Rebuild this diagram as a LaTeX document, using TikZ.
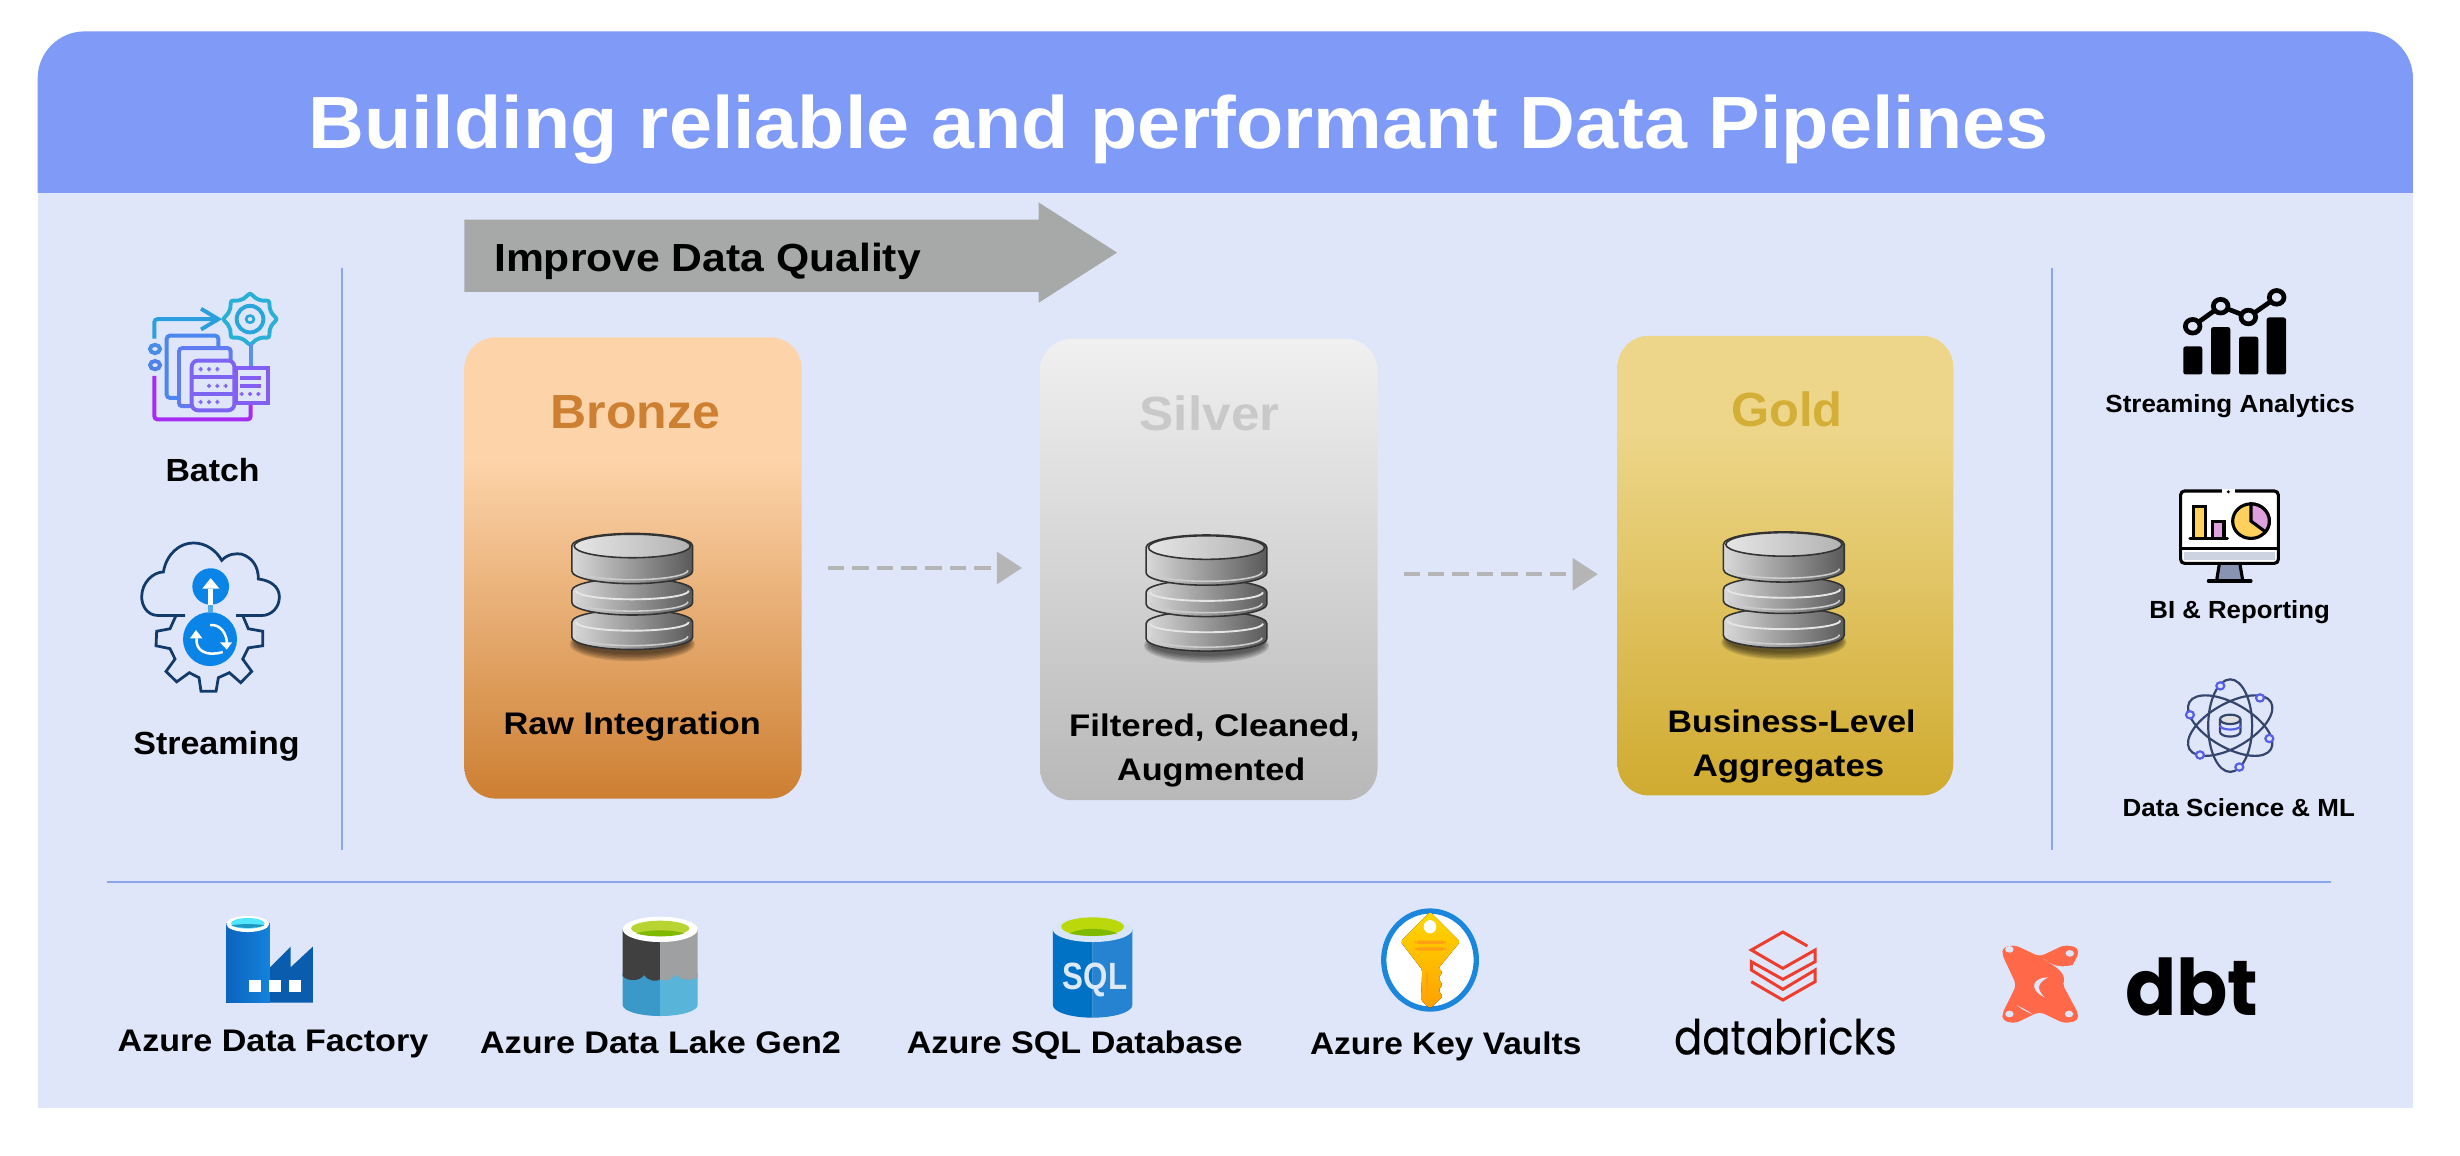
\documentclass[tikz,border=0pt]{standalone}
\usepackage{fontspec}
\usepackage{graphicx}
\setmainfont{Liberation Sans}
\newfontfamily\popf{Poppins}
\newfontfamily\popm[FakeBold=0.35]{Poppins}
\usetikzlibrary{arrows.meta,calc}
\newlength\ulen
\setlength\ulen{0.39222pt}
\newcommand{\fw}[2]{\resizebox{#1\ulen}{\height}{#2}}
\definecolor{panelc}{HTML}{E0E6F9}
\definecolor{headc}{HTML}{7F9BF7}
\definecolor{rulec}{HTML}{8CA6EE}
\definecolor{arrc}{HTML}{A6A9A8}
\definecolor{flowc}{HTML}{B5B5B5}
\definecolor{bronzec}{HTML}{CD7F32}
\definecolor{bronzetop}{HTML}{FDD4AA}
\definecolor{silverc}{HTML}{C9C9C9}
\definecolor{goldc}{HTML}{D4AF37}
\definecolor{navyc}{HTML}{123A6B}
\definecolor{bluec}{HTML}{0A84E6}
\definecolor{dsc}{HTML}{34466E}
\definecolor{dsn}{HTML}{5560E8}
\definecolor{dbred}{HTML}{EE3D2C}
\definecolor{dbto}{HTML}{FF694A}
\definecolor{ykey}{HTML}{FFD15C}
\definecolor{pkey}{HTML}{DDA0DD}
\definecolor{silvertop}{HTML}{F0F0F0}
\definecolor{silverbot}{HTML}{B8B8B8}
\definecolor{goldtop}{HTML}{EDD68A}
\definecolor{goldbot}{HTML}{D0AB30}
\pgfdeclareverticalshading{bronzeshade}{100bp}{color(0bp)=(bronzec); color(25bp)=(bronzec); color(62bp)=(bronzetop); color(75bp)=(bronzetop); color(100bp)=(bronzetop)}
\pgfdeclareverticalshading{silvershade}{100bp}{color(0bp)=(silverbot); color(25bp)=(silverbot); color(75bp)=(silvertop); color(100bp)=(silvertop)}
\pgfdeclareverticalshading{goldshade}{100bp}{color(0bp)=(goldbot); color(25bp)=(goldbot); color(65bp)=(goldtop); color(75bp)=(goldtop); color(100bp)=(goldtop)}
\tikzset{
  lab/.style={inner sep=0pt,anchor=base,yshift=-0.45pt,font=\bfseries\fontsize{#1}{#1}\selectfont,text=black},
  tier/.style={inner sep=0pt,rounded corners=20*\ulen,minimum width=215*\ulen,minimum height=294*\ulen},
  sep/.style={draw=rulec,line width=0.5pt},
  flow/.style={draw=flowc,line width=1.1pt,dash pattern=on 4.1pt off 2pt,-{Triangle[length=6.3pt,width=7.9pt,fill=flowc]}},
  dbicon/.pic={
    \foreach \k in {0,...,5}{\fill[black,opacity=.12] (0,69+\k*.3) ellipse [x radius=36+\k*.8,y radius=8+\k*.6];}
    \foreach \t/\b in {48.5/74,28.5/52,0/32}{
      \draw[draw=black!80,line width=1*\ulen,left color=black!15,right color=black!65]
        (-38.5,\t+8) -- (-38.5,\b-8) arc[start angle=180,end angle=0,x radius=38.5,y radius=8] -- (38.5,\t+8)
        arc[start angle=0,end angle=-180,x radius=38.5,y radius=8] -- cycle;
      \draw[white!80!black,line width=1*\ulen] (-35.5,\b-8.5) arc[start angle=180,end angle=0,x radius=35.5,y radius=6];
      \draw[white!90!black,line width=1.2*\ulen] (-36,\t+8) arc[start angle=180,end angle=0,x radius=36,y radius=5.5];
    }
    \draw[draw=black!80,line width=1*\ulen,left color=black!10,right color=black!30] (0,8) ellipse [x radius=37,y radius=7.5];
  },
}
\begin{document}
\begin{tikzpicture}[x=0.39222pt,y=-0.39222pt]
\useasboundingbox (0,0) rectangle (1568,736.2);
\fill[white] (0,0) rectangle (1568,736.2);
% panel and header
\fill[panelc] (24,123) rectangle (1538,706);
\fill[headc] (24,123) {[rounded corners=30*\ulen] -- (24,20) -- (1538,20)} -- (1538,123) -- cycle;
\node[lab=18.5pt,text=white] (title) at (751,93.5) {\fw{1109}{Building reliable and performant Data Pipelines}};
% separators
\draw[sep] (218,171) -- (218,542);
\draw[sep] (1308,171) -- (1308,542);
\draw[sep] (68,562) -- (1486,562);
% quality arrow
\fill[arrc] (296,140) -- (662,140) -- (662,129) -- (712,161) -- (662,193) -- (662,186) -- (296,186) -- cycle;
\node[lab=9.8pt] (quality) at (451,172) {\fw{272}{Improve Data Quality}};
% tiers
\node[tier,shading=bronzeshade,minimum width=215*\ulen] (bronze) at (403.5,362) {};
\node[tier,shading=silvershade] (silver) at (770.5,363) {};
\node[tier,shading=goldshade,minimum height=293*\ulen,minimum width=214*\ulen] (gold) at (1138,360.5) {};
\node[lab=12pt,text=bronzec] (tb) at (405,272) {\fw{108}{Bronze}};
\node[lab=12pt,text=silverc] (ts) at (771,273) {\fw{89}{Silver}};
\node[lab=12pt,text=goldc] (tg) at (1139,271) {\fw{71}{Gold}};
\pic at (403,340) {dbicon};
\pic at (769,341) {dbicon};
\pic at (1137,339) {dbicon};
\node[lab=7.8pt] (lb) at (403,467) {\fw{164}{Raw Integration}};
\node[lab=7.8pt] (ls1) at (774,468.5) {\fw{185}{Filtered, Cleaned,}};
\node[lab=7.8pt] (ls2) at (772,496.5) {\fw{120}{Augmented}};
\node[lab=7.8pt] (lg1) at (1142,466) {\fw{158}{Business-Level}};
\node[lab=7.8pt] (lg2) at (1140,494) {\fw{122}{Aggregates}};
% flow arrows
\draw[flow,shorten <=6.31pt,shorten >=4.34pt] (bronze.east) -- (bronze.east -| silver.west);
\draw[flow,shorten <=6.31pt,shorten >=4.73pt] ([yshift=-1.18pt]silver.east) -- ([yshift=-1.18pt]silver.east -| gold.west);
% left labels
\node[lab=8pt] (batch) at (135.5,306) {\fw{60}{Batch}};
\node[lab=8pt] (streaming) at (138,480) {\fw{106}{Streaming}};
% batch icon
\begin{scope}[shift={(0,146.6)},xscale=0.2125,yscale=0.2642,line width=2.5*\ulen,rounded corners=2*\ulen]
  \draw[color={rgb,255:red,40;green,176;blue,214},sharp corners] plot[smooth cycle,domain=0:345,samples=24] ({750+(72+7*cos(8*\x))*cos(\x)},{215+(55+6*cos(8*\x))*sin(\x)});
  \draw[color={rgb,255:red,40;green,166;blue,220}] (750,215) ellipse [x radius=40,y radius=32];
  \fill[color={rgb,255:red,40;green,166;blue,220}] (750,215) ellipse [x radius=16,y radius=12];
  \fill[panelc] (750,215) ellipse [x radius=7,y radius=5];
  \draw[color={rgb,255:red,43;green,159;blue,221}] (463,262) -- (463,215) -- (655,215);
  \draw[color={rgb,255:red,43;green,159;blue,221},sharp corners] (603,190) -- (655,215) -- (603,240);
  \draw[color={rgb,255:red,70;green,140;blue,232}] (465,287) ellipse [x radius=15,y radius=10];
  \draw[color={rgb,255:red,80;green,130;blue,236}] (465,326) ellipse [x radius=15,y radius=10];
  \draw[color={rgb,255:red,165;green,45;blue,242}] (463,352) -- (463,457) -- (752,457) -- (752,420);
  \draw[color={rgb,255:red,75;green,135;blue,238}] (535,405) -- (500,405) -- (500,255) -- (655,255) -- (655,285);
  \draw[color={rgb,255:red,95;green,125;blue,240}] (575,425) -- (537,425) -- (537,285) -- (692,285) -- (692,315);
  \draw[color={rgb,255:red,125;green,100;blue,242},fill=panelc,rounded corners=4*\ulen] (575,315) rectangle (703,435);
  \draw[color={rgb,255:red,125;green,100;blue,242}] (575,355) -- (703,355) (575,395) -- (703,395);
  \foreach \px/\py in {602/336,627/336,652/336,627/376,652/376,677/376,602/415,627/415,652/415}{\fill[color={rgb,255:red,125;green,100;blue,242}] (\px-6,\py-5) rectangle (\px+6,\py+5);}
  \draw[color={rgb,255:red,90;green,145;blue,235}] (752,275) -- (752,333);
  \draw[color={rgb,255:red,130;green,95;blue,242},fill=panelc,sharp corners] (708,333) rectangle (805,418);
  \draw[color={rgb,255:red,130;green,95;blue,242}] (720,356) -- (782,356) (720,376) -- (782,376);
  \foreach \px in {725,750,775}{\fill[color={rgb,255:red,130;green,95;blue,242}] (\px-6,391) rectangle (\px+6,400);}
\end{scope}
% streaming icon
\begin{scope}[shift={(0,146.6)},xscale=0.2125,yscale=0.2642]
  \draw[navyc,line width=1*\ulen+0.3pt] (555,930) -- (475,930) .. controls (440,930) and (425,905) .. (425,885) .. controls (425,850) and (460,825) .. (490,825) .. controls (500,780) and (540,755) .. (580,755) .. controls (620,755) and (650,775) .. (665,797) .. controls (685,780) and (710,780) .. (725,782) .. controls (755,790) and (775,810) .. (775,842) .. controls (810,845) and (838,860) .. (838,885) .. controls (838,910) and (815,930) .. (785,930) -- (708,930);
  \draw[navyc,line width=1*\ulen+0.3pt] (528,930) -- (510,962) -- (470,968) -- (468,1003) -- (510,1010) -- (525,1035) -- (498,1065) -- (530,1090) -- (568,1068) -- (597,1080) -- (603,1113) -- (648,1113) -- (655,1080) -- (688,1068) -- (722,1092) -- (755,1065) -- (728,1035) -- (745,1008) -- (788,1003) -- (788,968) -- (745,962) -- (728,930);
  \fill[bluec] (632,860) ellipse [x radius=55,y radius=44];
  \fill[bluec] (630,987) ellipse [x radius=81,y radius=65];
  \fill[white!30!bluec] (625,870) rectangle (640,925);
  \fill[white] (607,865) -- (632,840) -- (658,865) -- cycle;
  \fill[white] (625,865) rectangle (640,905);
  \draw[white,line width=1.6*\ulen] (590,985) .. controls (585,1015) and (620,1030) .. (668,1018);
  \draw[white,line width=1.6*\ulen] (630,953) .. controls (660,950) and (685,975) .. (680,1005);
  \fill[white] (570,985) -- (588,965) -- (607,985) -- cycle;
  \fill[white] (660,995) -- (680,1012) -- (696,995) -- cycle;
\end{scope}
% right labels
\node[lab=6.2pt] (sa) at (1421.5,262) {\fw{159}{Streaming Analytics}};
\node[lab=6.2pt] (bi) at (1427.5,393) {\fw{115}{BI \& Reporting}};
\node[lab=6.2pt] (ds) at (1427,519) {\fw{148}{Data Science \& ML}};
% analytics icon
\begin{scope}[shift={(1313,159.3)},xscale=0.2125,yscale=0.2561]
  \foreach \a/\b/\c in {370/427/240,453/511/192,537/595/216,620/678/168}{\fill[black,rounded corners=1.5*\ulen] (\a,\c) rectangle (\b,310);}
  \draw[black,line width=3*\ulen] (398,190) -- (482,140) -- (565,167) -- (650,118);
  \foreach \a/\b in {398/190,482/140,565/167,650/118}{\draw[black,fill=panelc,line width=3*\ulen] (\a,\b) ellipse [x radius=22,y radius=17];}
\end{scope}
% BI icon
\begin{scope}[shift={(1313,159.3)},xscale=0.2125,yscale=0.2561,line width=2*\ulen]
  \fill[color={rgb,255:red,136;green,147;blue,179}] (478,782) -- (540,782) -- (548,822) -- (470,822) -- cycle;
  \draw[black] (478,782) -- (470,822) (540,782) -- (548,822);
  \draw[black,line cap=round] (445,824) -- (573,824);
  \draw[black,fill=white,rounded corners=2.5*\ulen] (362,600) rectangle (655,780);
  \fill[color={rgb,255:red,205;green,211;blue,224}] (373,752) rectangle (645,771);
  \draw[black] (362,742) -- (655,742);
  \draw[white,line width=2.6*\ulen] (485,600) -- (525,600);
  \fill[black] (505,602) ellipse [x radius=5,y radius=4];
  \draw[black,fill=ykey] (400,715) -- (400,638) -- (436,638) -- (436,715);
  \draw[black,fill=pkey] (458,715) -- (458,675) -- (492,675) -- (492,715);
  \draw[black,line cap=round] (390,718) -- (502,718);
  \draw[black,fill=ykey] (573,675) ellipse [x radius=55,y radius=43];
  \draw[black,fill=pkey] (573,675) -- (573,632) arc[start angle=-90,end angle=38,x radius=55,y radius=43] -- cycle;
\end{scope}
% data science icon
\begin{scope}[line width=1.4*\ulen]
  \draw[dsc] (1421.5,462.5) ellipse [x radius=14,y radius=29.5];
  \draw[dsc,rotate around={30:(1421.5,462.5)}] (1421.5,462.5) ellipse [x radius=30,y radius=14];
  \draw[dsc,rotate around={-30:(1421.5,462.5)}] (1421.5,462.5) ellipse [x radius=30,y radius=14];
  \draw[dsc,fill=panelc] (1415,458.5) -- (1415,466.5) arc[start angle=180,end angle=0,x radius=6.5,y radius=3] -- (1428,458.5);
  \draw[dsc,fill=black!12] (1421.5,458.5) ellipse [x radius=6.5,y radius=3];
  \draw[dsn] (1415,462.5) arc[start angle=180,end angle=0,x radius=6.5,y radius=2.5];
\end{scope}
\begin{scope}[shift={(1313,159.3)},xscale=0.2125,yscale=0.2561]
  \foreach \a/\b in {481/1085,600/1115,390/1157,628/1216,420/1257,538/1287}{\draw[dsn,fill=panelc,line width=1.4*\ulen] (\a,\b) ellipse [x radius=12,y radius=9];}
\end{scope}
% bottom labels
\node[lab=7.8pt] (adf) at (174,669) {\fw{198}{Azure Data Factory}};
\node[lab=7.8pt] (adls) at (421,670.5) {\fw{230}{Azure Data Lake Gen2}};
\node[lab=7.8pt] (sql) at (685,670.5) {\fw{214}{Azure SQL Database}};
\node[lab=7.8pt] (akv) at (921.5,671) {\fw{173}{Azure Key Vaults}};
% bottom icons, first three
\begin{scope}[shift={(57.4,567.3)},xscale=0.4878,yscale=0.2124]
  % data factory
  \fill[color={rgb,255:red,10;green,93;blue,174}] (235,232) -- (262,170) -- (262,232) -- (291,170) -- (291,338) -- (235,338) -- cycle;
  \fill[left color={rgb,255:red,12;green,100;blue,190},right color={rgb,255:red,20;green,130;blue,220}] (178,100) rectangle (235,338);
  \fill[white] (206,102) ellipse [x radius=28,y radius=24];
  \fill[color={rgb,255:red,80;green,230;blue,255}] (206,100) ellipse [x radius=22,y radius=16];
  \fill[color={rgb,255:red,30;green,150;blue,195}] (184,106) .. controls (195,116) and (217,116) .. (228,106) .. controls (217,101) and (195,101) .. cycle;
  \foreach \a in {208,234,260}{\fill[white] (\a,270) rectangle (\a+16,305);}
  % data lake
  \fill[color={rgb,255:red,58;green,153;blue,201}] (696,250) -- (696,345) arc[start angle=180,end angle=90,x radius=49,y radius=33] -- (745,250) -- cycle;
  \fill[color={rgb,255:red,89;green,180;blue,217}] (745,250) -- (745,378) arc[start angle=90,end angle=0,x radius=49,y radius=33] -- (794,250) -- cycle;
  \fill[color={rgb,255:red,64;green,64;blue,64}] (696,118) -- (696,258) .. controls (702,275) and (718,275) .. (724,255) .. controls (730,275) and (740,275) .. (745,268) -- (745,118) -- cycle;
  \fill[color={rgb,255:red,159;green,160;blue,162}] (745,118) -- (745,268) .. controls (752,275) and (760,270) .. (765,252) .. controls (770,270) and (785,275) .. (794,262) -- (794,118) -- cycle;
  \fill[white] (745,118) ellipse [x radius=49,y radius=38];
  \fill[color={rgb,255:red,184;green,212;blue,50}] (745,115) ellipse [x radius=38,y radius=23];
  \fill[color={rgb,255:red,127;green,186;blue,0}] (714,130) .. controls (730,118) and (760,118) .. (776,130) .. controls (762,142) and (728,142) .. cycle;
  % sql
  \fill[color={rgb,255:red,0;green,114;blue,198}] (1258,118) -- (1258,345) arc[start angle=180,end angle=90,x radius=52,y radius=38] -- (1310,118) -- cycle;
  \fill[color={rgb,255:red,37;green,131;blue,209}] (1310,118) -- (1310,383) arc[start angle=90,end angle=0,x radius=52,y radius=38] -- (1362,118) -- cycle;
  \fill[color={rgb,255:red,216;green,230;blue,248}] (1310,118) ellipse [x radius=52,y radius=38];
  \fill[color={rgb,255:red,186;green,216;blue,10}] (1310,110) ellipse [x radius=41,y radius=28];
  \fill[color={rgb,255:red,127;green,186;blue,0}] (1280,130) .. controls (1295,112) and (1325,112) .. (1342,130) .. controls (1325,140) and (1295,140) .. cycle;
\end{scope}
\node[inner sep=0pt,anchor=base,font=\bfseries\fontsize{9.5pt}{9.5pt}\selectfont,text={rgb,255:red,221;green,232;blue,248}] (sqltext) at (698,631) {\fw{41}{SQL}};
% key vault, databricks, dbt
\begin{scope}[shift={(815.8,567.3)},xscale=0.4471,yscale=0.2124]
  \draw[color={rgb,255:red,26;green,134;blue,220},fill=white,line width=3.4*\ulen] (214,210) ellipse [x radius=66,y radius=147];
  \fill[top color={rgb,255:red,255;green,216;blue,0},bottom color={rgb,255:red,255;green,160;blue,0},rounded corners=1.2*\ulen] (214,65) -- (172,155) -- (203,240) -- (201,330) -- (214,356) -- (232,320) -- (226,300) -- (232,285) -- (226,265) -- (232,245) -- (226,235) -- (257,155) -- cycle;
  \fill[white] (214,110) ellipse [x radius=9,y radius=20];
  \fill[color={rgb,255:red,255;green,160;blue,20},rounded corners=1pt] (192,152) rectangle (237,162);
  \fill[color={rgb,255:red,255;green,160;blue,20},rounded corners=1pt] (192,172) rectangle (237,182);
  \draw[color={rgb,255:red,255;green,160;blue,20}] (210,245) -- (210,325);
  % databricks
  \draw[dbred,line width=1.9*\ulen] (752,168) -- (717,126) -- (672,180) -- (717,235) -- (763,180) -- (763,215) -- (717,268) -- (672,215) -- (672,240) -- (717,298) -- (763,240) -- (763,275) -- (717,330) -- (672,275);
  % dbt logo
  \fill[dbto,rounded corners=3*\ulen] (1030,172) -- (1048,165) -- (1083,200) -- (1118,165) -- (1138,172) -- (1138,195) -- (1115,280) -- (1138,370) -- (1138,392) -- (1118,400) -- (1083,365) -- (1048,400) -- (1030,392) -- (1030,370) -- (1050,285) -- (1030,195) -- cycle;
  \foreach \a/\b in {1040/178,1126/190,1040/372,1125/372}{\fill[panelc] (\a,\b) ellipse [x radius=6,y radius=10];}
  \fill[panelc] (1095,262) .. controls (1075,262) and (1065,295) .. (1090,322) .. controls (1078,295) and (1080,280) .. cycle;
  \fill[panelc] (1088,205) .. controls (1100,225) and (1120,240) .. (1118,275) -- (1130,225) .. controls (1110,235) and (1100,225) .. cycle;
  \fill[panelc] (1050,345) .. controls (1060,355) and (1072,370) .. (1075,375) -- (1060,360) -- cycle;
\end{scope}
\node[inner sep=0pt,anchor=base,font=\popm\fontsize{12pt}{12pt}\selectfont,text=black] (dbx) at (1138,672) {\fw{142}{databricks}};
\node[inner sep=0pt,anchor=base,font=\popf\bfseries\fontsize{19.5pt}{19.5pt}\selectfont,text=black] (dbt) at (1397,647) {\fw{85}{dbt}};
\end{tikzpicture}
\end{document}
